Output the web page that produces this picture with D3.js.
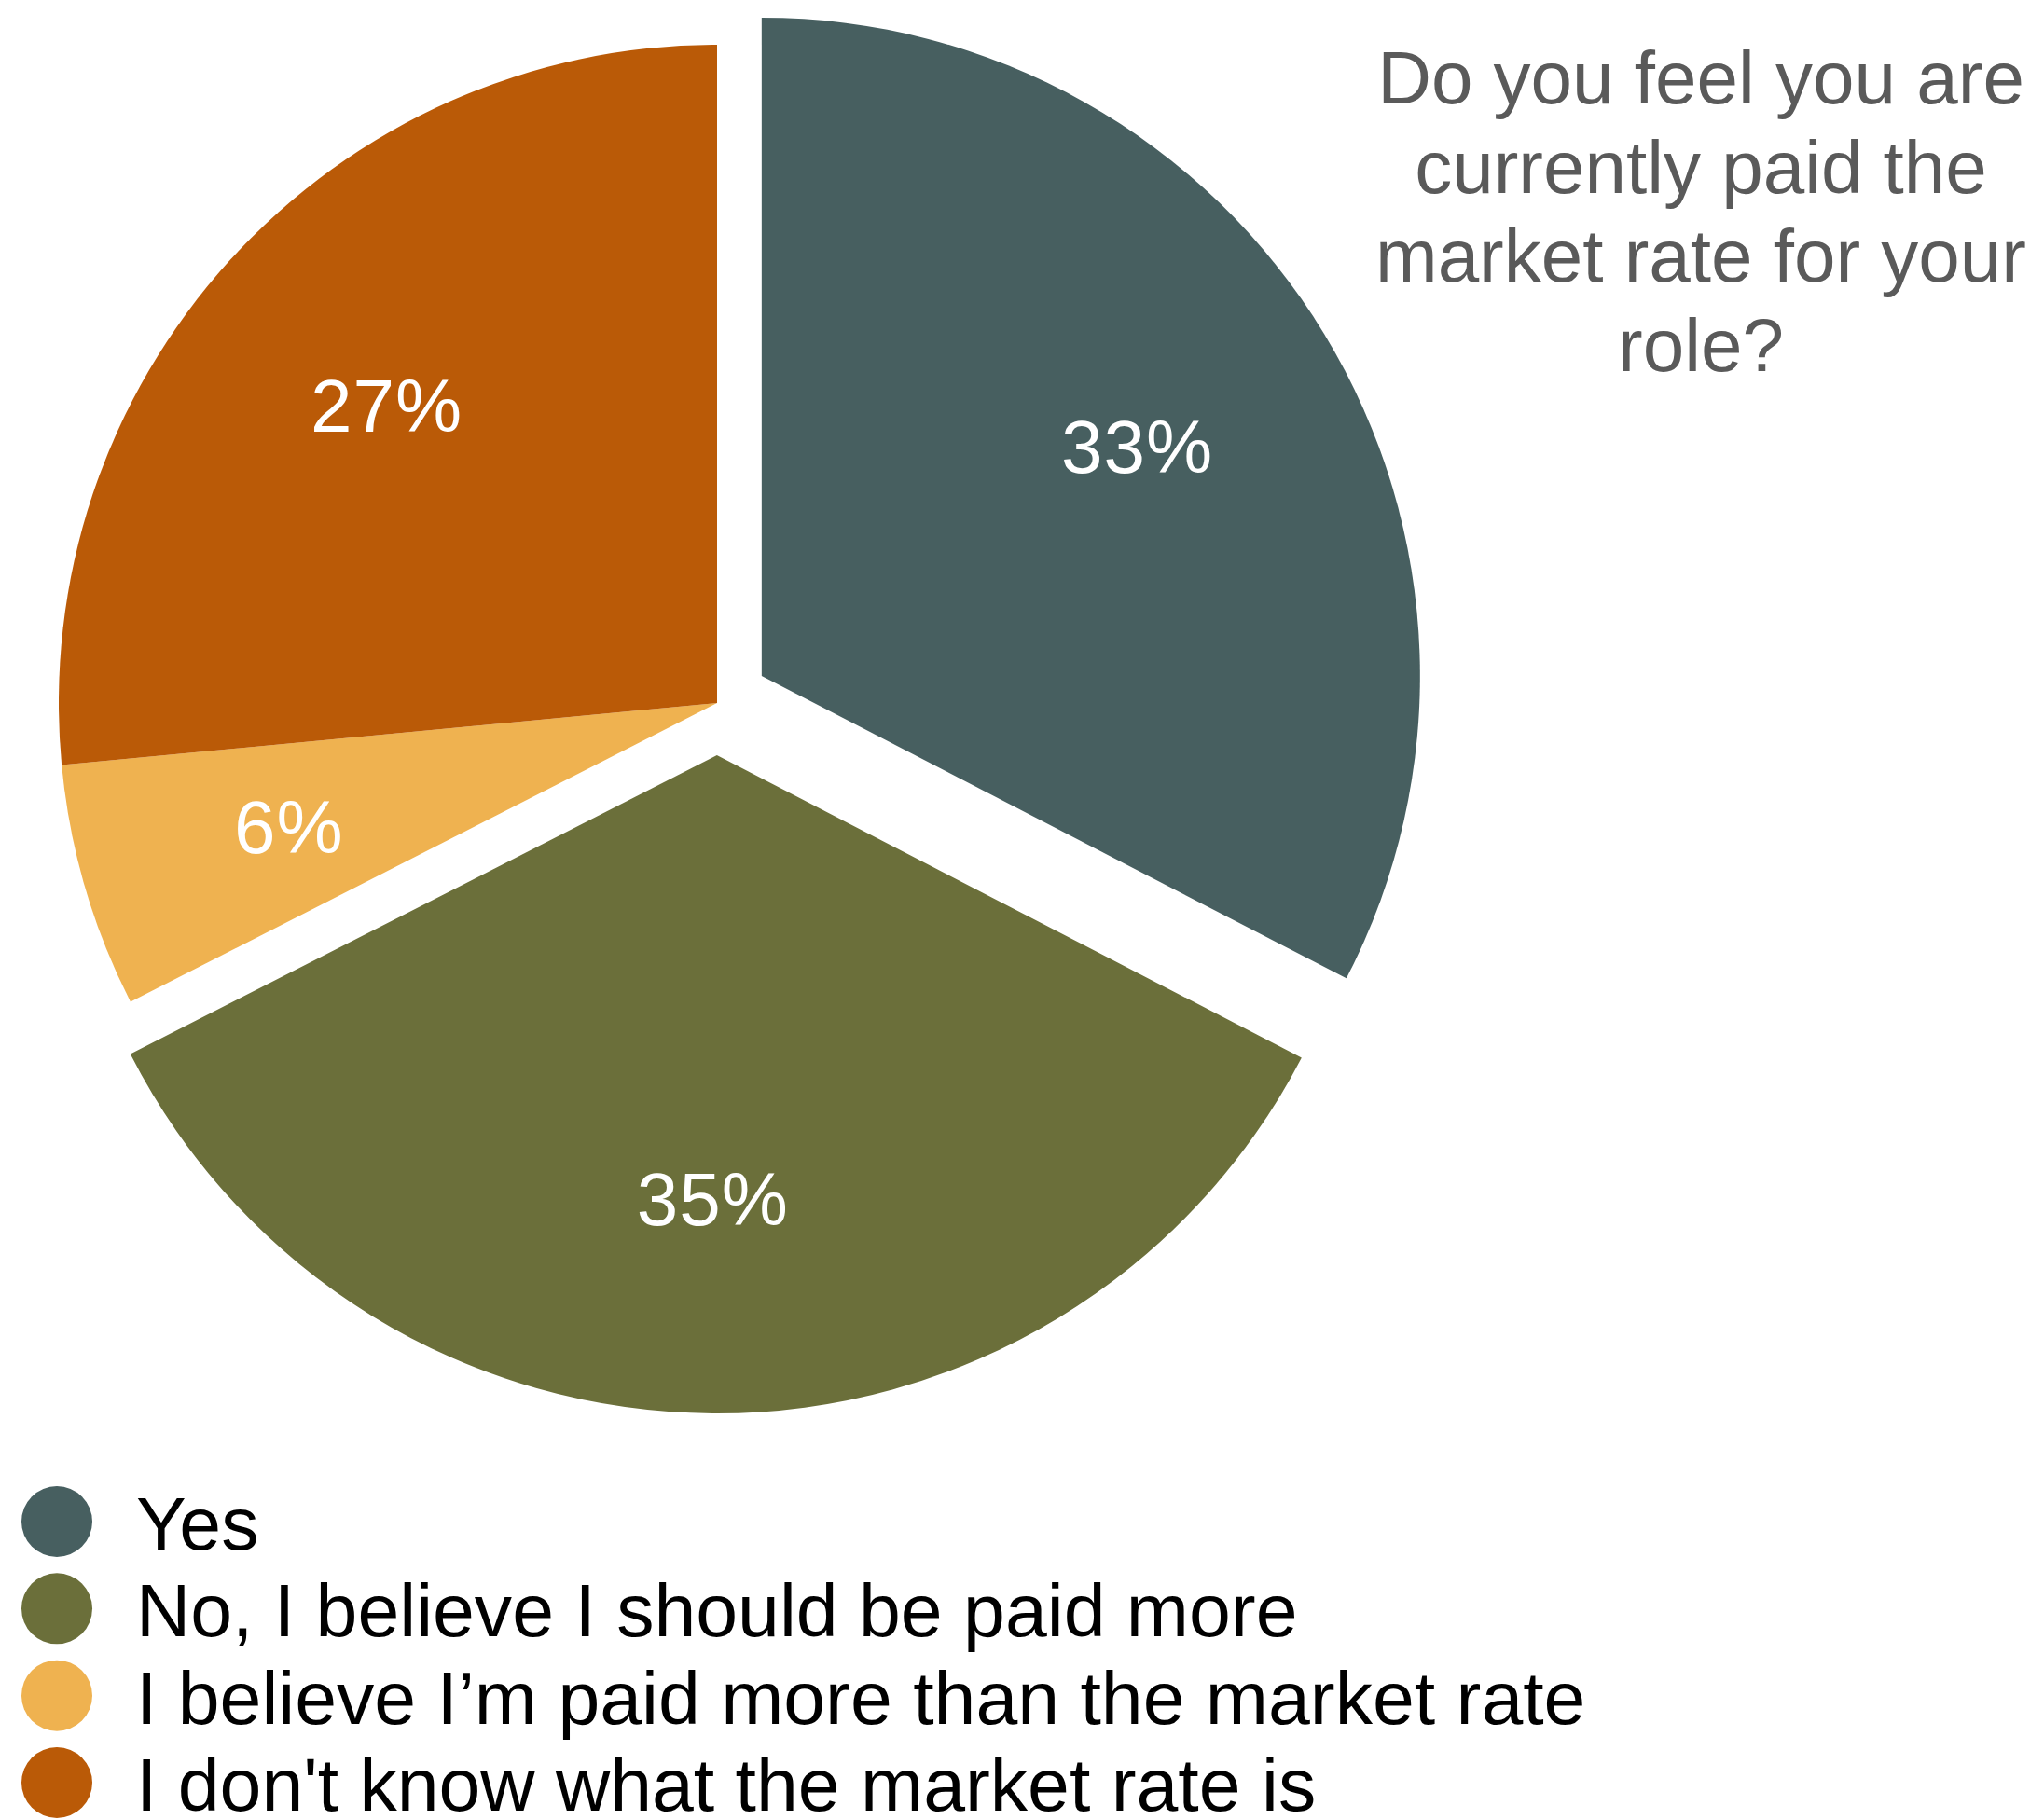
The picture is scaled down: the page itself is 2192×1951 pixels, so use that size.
<!DOCTYPE html>
<html>
<head>
<meta charset="utf-8">
<script src="https://cdn.jsdelivr.net/npm/d3@7"></script>
<style>
  html, body { margin: 0; padding: 0; background: #ffffff; }
  svg { display: block; }
  text { font-family: Helvetica, "Liberation Sans", Arial, sans-serif; }
</style>
</head>
<body>
<svg id="chart" width="2192" height="1951"></svg>
<script>
// ---- data ----
const categories = [
  "Yes",
  "No, I believe I should be paid more",
  "I believe I\u2019m paid more than the market rate",
  "I don't know what the market rate is"
];
const values = [32.6, 34.9, 6.0, 26.5];
const valueLabels = ["33%", "35%", "6%", "27%"];
const exploded = [true, true, false, false];
const colors = ["#475F60", "#6B6F3A", "#EFB250", "#BA5A07"];
const titleLines = ["Do you feel you are", "currently paid the", "market rate for your", "role?"];

// ---- layout ----
const svg = d3.select("#chart");
const cx = 769, cy = 754, radius = 706, explodeDist = 56, labelR = 475;

const data = categories.map((c, i) => ({ name: c, value: values[i], label: valueLabels[i], explode: exploded[i], color: colors[i] }));

const pie = d3.pie().value(d => d.value).sort(null).startAngle(0).endAngle(2 * Math.PI);
const arcs = pie(data);
const arc = d3.arc().innerRadius(0).outerRadius(radius);
const labelArc = d3.arc().innerRadius(labelR).outerRadius(labelR);

const g = svg.append("g").attr("transform", `translate(${cx},${cy})`);

const slices = g.selectAll("g.slice").data(arcs).enter().append("g")
  .attr("class", "slice")
  .attr("transform", d => {
    if (!d.data.explode) return null;
    const mid = (d.startAngle + d.endAngle) / 2;
    return `translate(${Math.sin(mid) * explodeDist},${-Math.cos(mid) * explodeDist})`;
  });

slices.append("path")
  .attr("d", arc)
  .attr("fill", d => d.data.color);

slices.append("text")
  .attr("transform", d => { const c = labelArc.centroid(d); return `translate(${c[0] - 3},${c[1]})`; })
  .attr("text-anchor", "middle")
  .attr("dy", "0.36em")
  .attr("font-size", 80)
  .attr("letter-spacing", 1)
  .attr("fill", "#ffffff")
  .text(d => d.data.label);

// ---- title ----
const title = svg.append("text")
  .attr("x", 1824)
  .attr("y", 111)
  .attr("text-anchor", "middle")
  .attr("font-size", 80)
  .attr("fill", "#5A5A5A");
title.selectAll("tspan").data(titleLines).enter().append("tspan")
  .attr("x", 1824)
  .attr("y", (d, i) => 111 + i * 95.7)
  .text(d => d);

// ---- legend ----
const legend = svg.append("g");
const legY = d3.scalePoint().domain(categories).range([1632, 1912]);
const items = legend.selectAll("g").data(data).enter().append("g")
  .attr("transform", d => `translate(0,${legY(d.name)})`);
items.append("circle")
  .attr("cx", 61).attr("cy", 0).attr("r", 38)
  .attr("fill", d => d.color);
items.append("text")
  .attr("x", 146).attr("y", 30)
  .attr("font-size", 80.6)
  .attr("fill", "#000000")
  .text(d => d.name);
</script>
</body>
</html>
